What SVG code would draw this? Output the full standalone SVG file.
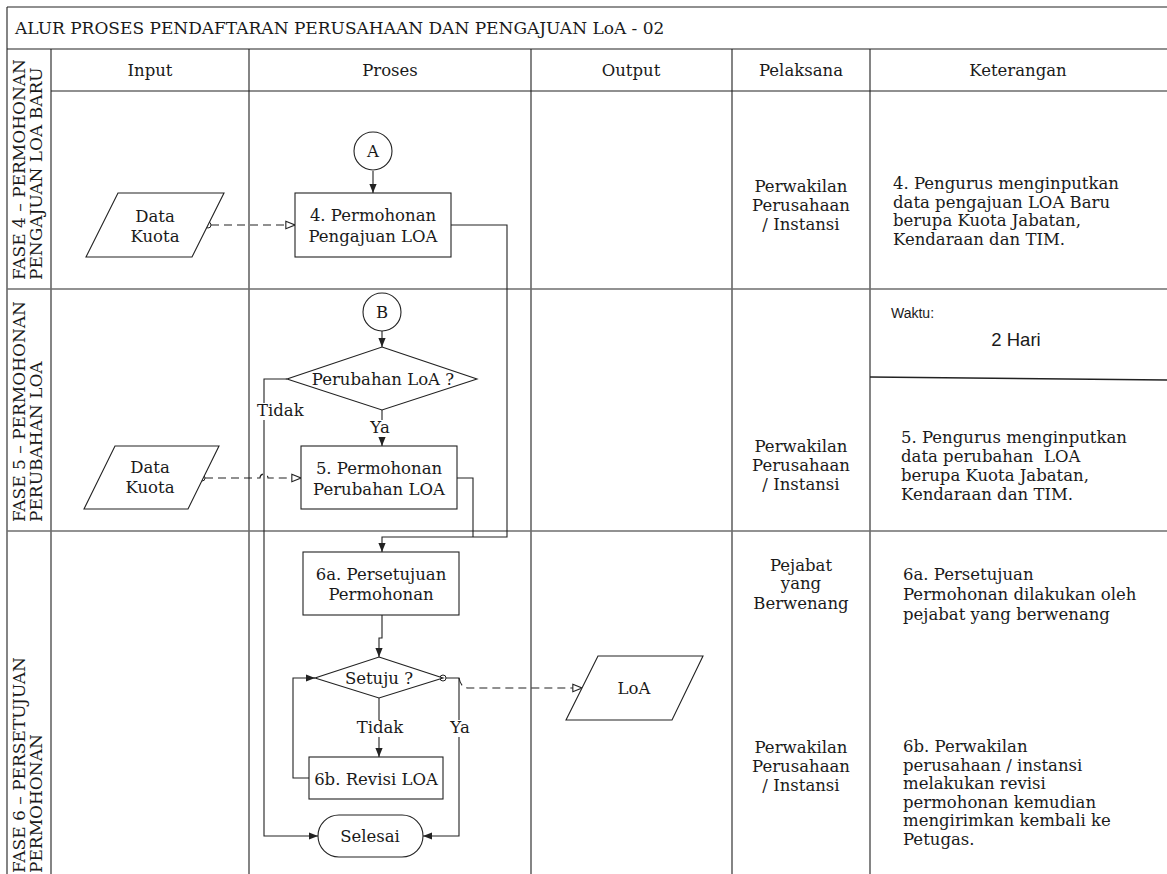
<svg xmlns="http://www.w3.org/2000/svg" width="1167" height="874" viewBox="0 0 1167 874">
  <style>
    .t { font-family: "DejaVu Serif", "Liberation Serif", serif; font-size: 16.5px; fill: #1a1a1a; }
    .c { text-anchor: middle; }
    .ph { font-size: 17px; }
    .sans { font-family: "Liberation Sans", Arial, sans-serif; }
    .grid { stroke: #222; stroke-width: 1.1; fill: none; }
    .band { stroke: #6f6f6f; stroke-width: 1.6; fill: none; }
    .shape { fill: #fff; stroke: #222; stroke-width: 1.1; }
    .conn { fill: none; stroke: #222; stroke-width: 1.1; }
    .dash { stroke-dasharray: 8 5; }
    .dot { fill: #fff; stroke: #222; stroke-width: 1; }
    .mask { fill: #fff; }
  </style>
  <defs>
    <marker id="arr" viewBox="0 0 10 10" refX="10" refY="5" markerWidth="9" markerHeight="9" markerUnits="userSpaceOnUse" orient="auto">
      <path d="M0,1 L10,5 L0,9 Z" fill="#222"/>
    </marker>
    <marker id="open" viewBox="-1 -1 12 12" refX="10" refY="5" markerWidth="11" markerHeight="11" markerUnits="userSpaceOnUse" orient="auto">
      <path d="M0,1 L10,5 L0,9 Z" fill="#fff" stroke="#222" stroke-width="1.2"/>
    </marker>
  </defs>

  <rect x="0" y="0" width="1167" height="874" fill="#fff"/>

  <!-- table frame -->
  <g id="table">
    <path class="grid" d="M7 7 H1167 M7 49 H1167 M51 91 H1167"/>
    <path class="grid" d="M7 7 V874 M51 49 V874 M249 49 V874 M531 49 V874 M732 49 V874 M870 49 V874"/>
    <path class="band" d="M7 289 H1167 M7 531 H1167"/>
    <path d="M870 377 L1167 380" stroke="#222" stroke-width="1.6" fill="none"/>
    <text class="t" x="15" y="34" style="font-size:17px">ALUR PROSES PENDAFTARAN PERUSAHAAN DAN PENGAJUAN LoA - 02</text>
    <text class="t c" x="150" y="76">Input</text>
    <text class="t c" x="390" y="76">Proses</text>
    <text class="t c" x="631" y="76">Output</text>
    <text class="t c" x="801" y="76">Pelaksana</text>
    <text class="t c" x="1018" y="76">Keterangan</text>
  </g>

  <!-- phase labels -->
  <g id="phase4-label">
    <text class="t ph" transform="translate(25 280) rotate(-90)">FASE 4 – PERMOHONAN</text>
    <text class="t ph" transform="translate(42 280) rotate(-90)">PENGAJUAN LOA BARU</text>
  </g>
  <g id="phase5-label">
    <text class="t ph" transform="translate(25 522) rotate(-90)">FASE 5 – PERMOHONAN</text>
    <text class="t ph" transform="translate(42 522) rotate(-90)">PERUBAHAN LOA</text>
  </g>
  <g id="phase6-label">
    <text class="t ph" transform="translate(25 873) rotate(-90)">FASE 6 – PERSETUJUAN</text>
    <text class="t ph" transform="translate(42 873) rotate(-90)">PERMOHONAN</text>
  </g>

  <!-- connectors -->
  <g id="connectors">
    <path class="conn" d="M373 171 V193" marker-end="url(#arr)"/>
    <path class="conn dash" d="M211 225 H295" marker-end="url(#open)"/>
    <circle class="dot" cx="208" cy="225" r="3"/>
    <path class="conn" d="M451 225 H507 V537 H382 V552" marker-end="url(#arr)"/>
    <path class="conn" d="M457 478 H473 V537"/>
    <path class="conn" d="M382 331 V347" marker-end="url(#arr)"/>
    <path class="conn" d="M382 410 V446" marker-end="url(#arr)"/>
    <path class="conn" d="M287 379 H264 V836 H318" marker-end="url(#arr)"/>
    <path class="conn dash" d="M205 478 H260 A4 4 0 0 1 268 478 H301" marker-end="url(#open)"/>
    <circle class="dot" cx="202" cy="478" r="3"/>
    <path class="conn" d="M382 615 V638 H379 V657" marker-end="url(#arr)"/>
    <path class="conn" d="M379 698 V757" marker-end="url(#arr)"/>
    <path class="conn" d="M309 778 H293 V678 H315" marker-end="url(#arr)"/>
    <path class="conn" d="M446 678 H459 V836 H423" marker-end="url(#arr)"/>
    <path class="conn dash" d="M459 678 Q461 688 468 688 H582" marker-end="url(#open)"/>
    <circle class="dot" cx="443" cy="678" r="3"/>
    <rect class="mask" x="256" y="403" width="50" height="17"/>
    <text class="t" x="257" y="416">Tidak</text>
    <rect class="mask" x="369" y="420" width="22" height="17"/>
    <text class="t c" x="380" y="433">Ya</text>
    <rect class="mask" x="355" y="720" width="50" height="17"/>
    <text class="t c" x="380" y="733">Tidak</text>
    <rect class="mask" x="449" y="720" width="22" height="17"/>
    <text class="t c" x="460" y="733">Ya</text>
  </g>

  <!-- phase 4 nodes -->
  <g id="data-kuota-4">
    <polygon class="shape" points="118,193 224,193 192,257 86,257"/>
    <text class="t c" x="155" y="222">Data</text>
    <text class="t c" x="155" y="242">Kuota</text>
  </g>
  <g id="connector-a">
    <circle class="shape" cx="373" cy="151" r="19"/>
    <text class="t c" x="373" y="157">A</text>
  </g>
  <g id="step-4">
    <rect class="shape" x="295" y="193" width="156" height="64"/>
    <text class="t c" x="373" y="221">4. Permohonan</text>
    <text class="t c" x="373" y="242">Pengajuan LOA</text>
  </g>
  <g id="pelaksana-4">
    <text class="t c" x="801" y="192">Perwakilan</text>
    <text class="t c" x="801" y="211">Perusahaan</text>
    <text class="t c" x="801" y="230">/ Instansi</text>
  </g>
  <g id="keterangan-4">
    <text class="t" x="893" y="189">4. Pengurus menginputkan</text>
    <text class="t" x="893" y="208">data pengajuan LOA Baru</text>
    <text class="t" x="893" y="226">berupa Kuota Jabatan,</text>
    <text class="t" x="893" y="245">Kendaraan dan TIM.</text>
  </g>

  <!-- phase 5 nodes -->
  <g id="waktu">
    <text class="t sans" x="891" y="318" style="font-size:14px">Waktu:</text>
    <text class="t sans c" x="1016" y="346" style="font-size:18.5px">2 Hari</text>
  </g>
  <g id="connector-b">
    <circle class="shape" cx="382" cy="312" r="19"/>
    <text class="t c" x="382" y="318">B</text>
  </g>
  <g id="decision-perubahan">
    <polygon class="shape" points="382,347 477,379 382,410 287,379"/>
    <text class="t c" x="383" y="385">Perubahan LoA ?</text>
  </g>
  <g id="data-kuota-5">
    <polygon class="shape" points="115,446 219,446 188,509 84,509"/>
    <text class="t c" x="150" y="473">Data</text>
    <text class="t c" x="150" y="493">Kuota</text>
  </g>
  <g id="step-5">
    <rect class="shape" x="301" y="446" width="156" height="63"/>
    <text class="t c" x="379" y="474">5. Permohonan</text>
    <text class="t c" x="379" y="495">Perubahan LOA</text>
  </g>
  <g id="pelaksana-5">
    <text class="t c" x="801" y="452">Perwakilan</text>
    <text class="t c" x="801" y="471">Perusahaan</text>
    <text class="t c" x="801" y="490">/ Instansi</text>
  </g>
  <g id="keterangan-5">
    <text class="t" x="901" y="443">5. Pengurus menginputkan</text>
    <text class="t" x="901" y="462" style="white-space:pre">data perubahan  LOA</text>
    <text class="t" x="901" y="481">berupa Kuota Jabatan,</text>
    <text class="t" x="901" y="500">Kendaraan dan TIM.</text>
  </g>

  <!-- phase 6 nodes -->
  <g id="step-6a">
    <rect class="shape" x="303" y="552" width="156" height="63"/>
    <text class="t c" x="381" y="580">6a. Persetujuan</text>
    <text class="t c" x="381" y="600">Permohonan</text>
  </g>
  <g id="decision-setuju">
    <polygon class="shape" points="379,657 443,678 379,698 315,678"/>
    <text class="t c" x="379" y="684">Setuju ?</text>
  </g>
  <g id="step-6b">
    <rect class="shape" x="309" y="757" width="134" height="42"/>
    <text class="t c" x="376" y="785">6b. Revisi LOA</text>
  </g>
  <g id="selesai">
    <rect class="shape" x="318" y="815" width="105" height="42" rx="21" ry="21"/>
    <text class="t c" x="370" y="842">Selesai</text>
  </g>
  <g id="output-loa">
    <polygon class="shape" points="598,656 703,656 672,720 566,720"/>
    <text class="t c" x="634" y="694">LoA</text>
  </g>
  <g id="pelaksana-6a">
    <text class="t c" x="801" y="571">Pejabat</text>
    <text class="t c" x="801" y="589">yang</text>
    <text class="t c" x="801" y="609">Berwenang</text>
  </g>
  <g id="pelaksana-6b">
    <text class="t c" x="801" y="753">Perwakilan</text>
    <text class="t c" x="801" y="772">Perusahaan</text>
    <text class="t c" x="801" y="791">/ Instansi</text>
  </g>
  <g id="keterangan-6a">
    <text class="t" x="903" y="580">6a. Persetujuan</text>
    <text class="t" x="903" y="600">Permohonan dilakukan oleh</text>
    <text class="t" x="903" y="620">pejabat yang berwenang</text>
  </g>
  <g id="keterangan-6b">
    <text class="t" x="903" y="752">6b. Perwakilan</text>
    <text class="t" x="903" y="771">perusahaan / instansi</text>
    <text class="t" x="903" y="789">melakukan revisi</text>
    <text class="t" x="903" y="808">permohonan kemudian</text>
    <text class="t" x="903" y="826">mengirimkan kembali ke</text>
    <text class="t" x="903" y="845">Petugas.</text>
  </g>
</svg>
